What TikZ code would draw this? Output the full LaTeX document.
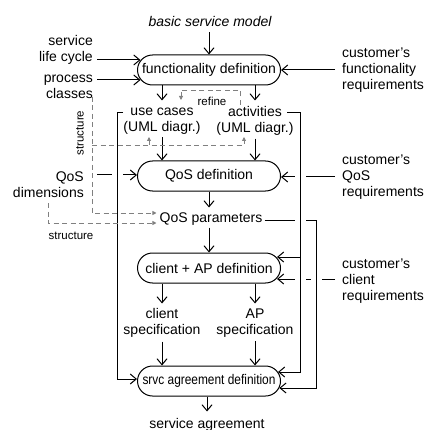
\documentclass[tikz,border=0pt]{standalone}
\usepackage{fontspec}
\setmainfont{Liberation Sans}
\usepackage{graphicx}
\usetikzlibrary{arrows.meta,calc}

\begin{document}
\begin{tikzpicture}[x=1pt,y=-1pt,
  font=\fontsize{14}{16}\selectfont,
  procbox/.style={draw, line width=1pt, rounded corners=15pt, minimum width=143pt, minimum height=30pt, inner sep=0pt},
  txt/.style={align=center, inner sep=0pt},
  txtr/.style={align=right, anchor=east, inner sep=0pt},
  txtl/.style={align=left, anchor=west, inner sep=0pt},
  small/.style={font=\fontsize{11.5}{13}\selectfont, inner sep=0pt},
  flow/.style={line width=1pt, -{Straight Barb[length=6pt,width=10pt]}},
  dep/.style={draw=gray, line width=0.8pt, dash pattern=on 5pt off 3.5pt},
  deparrow/.style={dep, -{Triangle[length=4pt,width=4pt]}, fill=none},
  gap/.style={fill=white}
]
\useasboundingbox (0,0) rectangle (425,430);

% bus lines
\coordinate (busL) at (117,0);
\coordinate (busA) at (300,0);
\coordinate (busQ) at (316,0);

% process steps
\node[procbox] (func)   at (209,70)  {functionality definition};
\node[procbox] (qosdef) at (209,176) {QoS definition};
\node[procbox] (cap)    at (209,268) {client + AP definition};
\node[procbox] (srvc)   at (209,381) {\scalebox{0.85}[1]{srvc agreement definition}};

% artefacts and inputs
\node[font=\fontsize{14}{16}\selectfont\itshape, inner sep=0pt] (title) at (210,22) {basic service model};
\node[txtr] (lifecycle) at (93,50)  {service\\life cycle};
\node[txtr] (pclasses)  at (93,87)  {process\\classes};
\node[txtl] (cfunc)     at (342,70) {customer's\\functionality\\requirements};
\node[txt]  (usecases)  at (162,121) {use cases\\(UML diagr.)};
\node[txt]  (activities) at (255,121) {activities\\(UML diagr.)};
\node[small] (refine)   at (212,101) {refine};
\node[txtr] (qosdim)    at (84,185) {QoS\\dimensions};
\node[txtl] (cqos)      at (342,177) {customer's\\QoS\\requirements};
\node[txt]  (qospar)    at (211,219) {QoS parameters};
\node[small, rotate=90] (struct1) at (80,133) {structure};
\node[small] (struct2)  at (71,236) {structure};
\node[txtl] (cclient)   at (342,281) {customer's\\client\\requirements};
\node[txt]  (cspec)     at (162,323) {client\\specification};
\node[txt]  (apspec)    at (255,323) {AP\\specification};
\node[txt]  (sagr)      at (207,425) {service agreement};

% main flow
\draw[flow] (func.north |- title.south) ++(0,5) -- (func.north);
\coordinate (lcOut) at (97,60);
\coordinate (pcOut) at (97,80);
\draw[flow] (lcOut) -- ($(func.west)+(3.5,-10)$);
\draw[flow] (pcOut) -- ($(func.west)+(3.5,10)$);
\draw[flow] (cfunc.west) ++(-7,0) -- (func.east);
\draw[flow] (func.south -| usecases) -- ++(0,15);
\draw[flow] (func.south -| activities) -- ++(0,15);
\draw[flow] (usecases.south) ++(0,3) -- (usecases.south |- qosdef.north);
\draw[flow] (activities.south) ++(0,3) -- (activities.south |- qosdef.north);
\draw[flow] (qosdef.south) -- ++(0,16);
\draw[flow] (qospar.south -| cap) ++(0,2) -- (cap.north);
\draw[flow] (cap.south -| cspec) -- ++(0,20);
\draw[flow] (cap.south -| apspec) -- ++(0,20);
\draw[flow] (cspec.south) ++(0,4) -- (cspec.south |- srvc.north);
\draw[flow] (apspec.south) ++(0,4) -- (apspec.south |- srvc.north);
\draw[flow] (srvc.south -| sagr) -- ++(0,15);

% inputs crossing the bus lines
\coordinate (qdOut) at (97,175);
\draw[flow] (qdOut) -- ($(qosdef.west)+(0,-1)$);
\draw[flow] (cqos.west) ++(-7,0) -- ($(qosdef.east)+(0,1)$);
\draw[flow] (cclient.west) ++(-7,-2) -- ($(cap.east)+(-4,11)$);
\fill[gap] (310.5,277.5) rectangle (321.5,280.5);

\coordinate (qpOut) at ($(qospar.east)+(2,1)$);
\draw[flow] (qpOut) -- (qpOut -| busQ) |- ($(srvc.east)+(-1.7,7)$);

\foreach \x/\y in {300/177, 300/220, 300/279, 117/175}
  \fill[gap] (\x-5.5,\y-1.5) rectangle (\x+5.5,\y+1.5);

\coordinate (actOut) at (287,113);
\draw[flow] (actOut) -- (actOut -| busA) |- ($(srvc.east)+(-3,-9)$);
\draw[flow] (cap.east -| busA) ++(0,-11) -- ($(cap.east)+(-4,-11)$);

\coordinate (ucOut) at (123,113);
\draw[flow] (ucOut) -- (ucOut -| busL) |- ($(srvc.west)+(0,-2)$);

% refinement and structure relations
\coordinate (rfStart) at (240,105);
\coordinate (rfEnd) at (181,100);
\draw[deparrow] (rfStart) -- ++(0,-15) -| (rfEnd);

\coordinate (stTop) at (92,97);
\coordinate (stMid) at (92,145);
\coordinate (ucUp) at (149,137);
\coordinate (acUp) at (244,137);
\draw[deparrow] (stTop) |- ($(qospar.west)+(-3,-6)$);
\draw[deparrow] (stMid) -| (acUp);
\draw[deparrow] (stMid -| ucUp) -- (ucUp);
\coordinate (dimOut) at (48,203);
\draw[deparrow] (dimOut) |- ($(qospar.west)+(-3,4)$);
\end{tikzpicture}
\end{document}
